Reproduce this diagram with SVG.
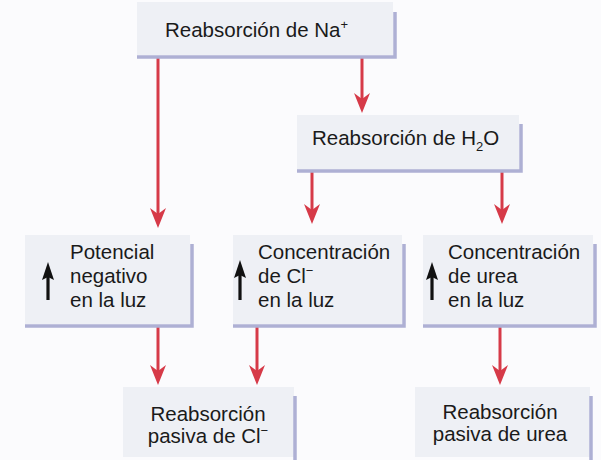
<svg xmlns="http://www.w3.org/2000/svg" width="601" height="460" viewBox="0 0 601 460">
<defs>
<style>
.bg{fill:#fbfbfd}
.box{fill:#eef0f5}
.sh{fill:none;stroke:#aeb0d4;stroke-width:3.5}
.t{font-family:"Liberation Sans",Arial,sans-serif;font-size:20.5px;fill:#1a1a1a}
.red{stroke:#d63a48;stroke-width:3;fill:none}
.blk{stroke:#111;stroke-width:3.2;fill:none}
.sup{font-size:13px}
</style>
<marker id="rh" viewBox="0 0 20 16" refX="12" refY="8" markerWidth="20" markerHeight="16" markerUnits="userSpaceOnUse" orient="auto">
<path d="M20,8 L0,0 L6,8 L0,16 Z" fill="#d63a48"/>
</marker>
<marker id="bh" viewBox="0 0 18 12" refX="8" refY="6" markerWidth="18" markerHeight="12" markerUnits="userSpaceOnUse" orient="auto">
<path d="M18,6 L0,0 L3,6 L0,12 Z" fill="#111"/>
</marker>
</defs>
<rect class="bg" x="0" y="0" width="601" height="460"/>

<g id="connectors">
<line class="red" x1="158" y1="57" x2="158" y2="220" marker-end="url(#rh)"/>
<line class="red" x1="362" y1="57" x2="362" y2="105" marker-end="url(#rh)"/>
<line class="red" x1="312" y1="172" x2="312" y2="216" marker-end="url(#rh)"/>
<line class="red" x1="502" y1="172" x2="502" y2="216" marker-end="url(#rh)"/>
<line class="red" x1="158" y1="326" x2="158" y2="377" marker-end="url(#rh)"/>
<line class="red" x1="257" y1="326" x2="257" y2="377" marker-end="url(#rh)"/>
<line class="red" x1="500" y1="326" x2="500" y2="377" marker-end="url(#rh)"/>
</g>

<g id="na">
<rect class="box" x="137" y="2" width="256" height="53"/>
<path class="sh" d="M395,12 V57 H137"/>
<text class="t" x="165" y="37">Reabsorción de Na<tspan class="sup" dy="-8">+</tspan></text>
</g>

<g id="h2o">
<rect class="box" x="297" y="115" width="222" height="55"/>
<path class="sh" d="M521,124 V171 H297"/>
<text class="t" x="312" y="145">Reabsorción de H<tspan class="sup" dy="6">2</tspan><tspan dy="-6">O</tspan></text>
</g>

<g id="potencial">
<rect class="box" x="25" y="235" width="165" height="89"/>
<path class="sh" d="M192,244 V326 H25"/>
<line class="blk" x1="48" y1="300" x2="48" y2="272" marker-end="url(#bh)"/>
<text class="t" x="70" y="259">Potencial</text>
<text class="t" x="70" y="283">negativo</text>
<text class="t" x="70" y="307">en la luz</text>
</g>

<g id="cl">
<rect class="box" x="233" y="235" width="169" height="89"/>
<path class="sh" d="M404,244 V326 H233"/>
<line class="blk" x1="240" y1="300" x2="240" y2="270" marker-end="url(#bh)"/>
<text class="t" x="258" y="259">Concentración</text>
<text class="t" x="258" y="283">de Cl<tspan class="sup" dy="-8">−</tspan></text>
<text class="t" x="258" y="307">en la luz</text>
</g>

<g id="urea">
<rect class="box" x="423" y="235" width="170" height="89"/>
<path class="sh" d="M595,244 V326 H423"/>
<line class="blk" x1="432" y1="300" x2="432" y2="272" marker-end="url(#bh)"/>
<text class="t" x="448" y="259">Concentración</text>
<text class="t" x="448" y="283">de urea</text>
<text class="t" x="448" y="307">en la luz</text>
</g>

<g id="pasiva-cl">
<rect class="box" x="123" y="387" width="171" height="70"/>
<path class="sh" d="M295,396 V462"/>
<text class="t" x="208" y="421" text-anchor="middle">Reabsorción</text>
<text class="t" x="208" y="443" text-anchor="middle">pasiva de Cl<tspan class="sup" dy="-8">−</tspan></text>
</g>

<g id="pasiva-urea">
<rect class="box" x="415" y="387" width="175" height="70"/>
<path class="sh" d="M591,396 V462"/>
<text class="t" x="500" y="419" text-anchor="middle">Reabsorción</text>
<text class="t" x="500" y="441" text-anchor="middle">pasiva de urea</text>
</g>
</svg>
